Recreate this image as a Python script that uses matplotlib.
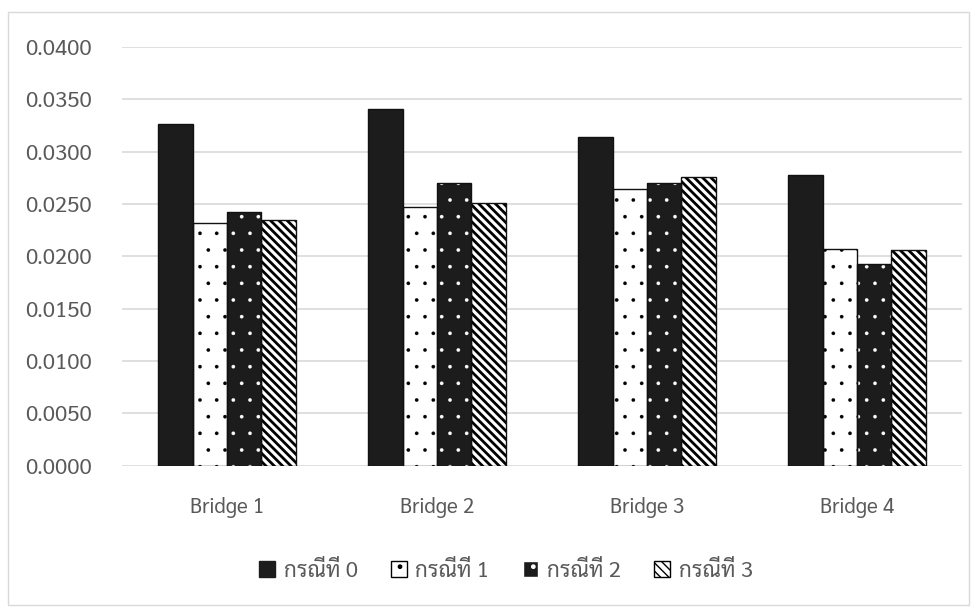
import matplotlib
matplotlib.use('Agg')
import matplotlib.pyplot as plt
from matplotlib.patches import Patch, Rectangle
import numpy as np

plt.rcParams['font.family'] = ['Sarabun', 'DejaVu Sans']

bridges = ['Bridge 1', 'Bridge 2', 'Bridge 3', 'Bridge 4']
case_names = ['กรณีที่ 0', 'กรณีที่ 1', 'กรณีที่ 2', 'กรณีที่ 3']
case0 = [0.0326, 0.0341, 0.0314, 0.0278]
case1 = [0.0232, 0.0247, 0.0264, 0.0207]
case2 = [0.0242, 0.0270, 0.0270, 0.0193]
case3 = [0.0235, 0.0251, 0.0276, 0.0206]
yticks = [0.0, 0.005, 0.01, 0.015, 0.02, 0.025, 0.03, 0.035, 0.04]

dark = '#1c1c1c'
# face, hatch, hatch colour, hatch line width for each case
styles = [
    (dark, None, dark, 1.0),
    ('white', '.', 'black', 0.2),
    (dark, '.', 'white', 0.2),
    ('white', '\\\\\\\\', 'black', 2.0),
]

fig = plt.figure(figsize=(9.77, 6.09), dpi=100)
ax = fig.add_axes([0.1249, 0.2356, 0.8597, 0.6872])

x = np.arange(len(bridges))
w = 0.164
series = [case0, case1, case2, case3]
for i, vals in enumerate(series):
    fc, hatch, hc, hlw = styles[i]
    pos = x + (i - 1.5) * w
    bars = ax.bar(pos, vals, w, color=fc, edgecolor=hc, hatch=hatch, linewidth=0, zorder=2)
    for b in bars:
        b.set_hatch_linewidth(hlw)
    # outline drawn separately so the hatch colour can differ from the edge
    ax.bar(pos, vals, w, fill=False, edgecolor='#111111', linewidth=1.0, zorder=3)

ax.set_xlim(-0.5, 3.5)
ax.set_ylim(0, 0.04)
ax.set_yticks(yticks)
ax.set_yticklabels(['%.4f' % v for v in yticks])
ax.set_xticks(x)
ax.set_xticklabels(bridges)
ax.tick_params(axis='both', length=0, colors='#595959')
ax.tick_params(axis='y', pad=22, labelsize=16)
ax.tick_params(axis='x', pad=23, labelsize=15)
ax.grid(axis='y', color='#d9d9d9', linewidth=1.2, zorder=0)
for s in ax.spines.values():
    s.set_visible(False)

handles = []
for i in range(4):
    fc, hatch, hc, hlw = styles[i]
    p = Patch(facecolor=fc, edgecolor=hc if i != 0 else dark, hatch=hatch, label=case_names[i])
    p.set_hatch_linewidth(hlw)
    handles.append(p)
fig.legend(handles=handles, loc='center', bbox_to_anchor=(0.518, 0.062), ncol=4, frameon=False,
           fontsize=16, handlelength=0.7, handleheight=0.7, handletextpad=0.4,
           columnspacing=1.5, labelcolor='#595959')

fig.patches.append(Rectangle((8 / 977, 4 / 609), 961 / 977, 593 / 609, transform=fig.transFigure,
                             fill=False, edgecolor='#d9d9d9', linewidth=1.0))

fig.savefig('out.png', dpi=100)
